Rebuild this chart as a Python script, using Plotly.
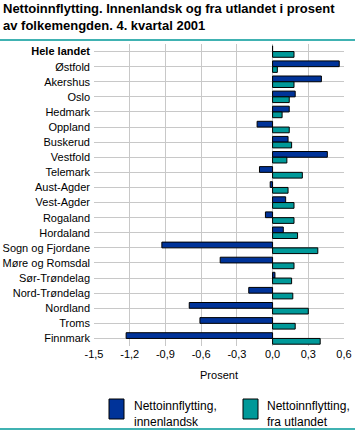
import plotly.graph_objects as go

regions = ["Hele landet", "Østfold", "Akershus", "Oslo", "Hedmark", "Oppland", "Buskerud",
           "Vestfold", "Telemark", "Aust-Agder", "Vest-Agder", "Rogaland", "Hordaland",
           "Sogn og Fjordane", "Møre og Romsdal", "Sør-Trøndelag", "Nord-Trøndelag",
           "Nordland", "Troms", "Finnmark"]
innenlandsk = [0.0, 0.56, 0.41, 0.19, 0.14, -0.13, 0.13, 0.46, -0.11, -0.02, 0.11, -0.06,
               0.09, -0.93, -0.44, 0.02, -0.20, -0.70, -0.61, -1.23]
utlandet = [0.18, 0.04, 0.18, 0.14, 0.08, 0.14, 0.16, 0.12, 0.25, 0.13, 0.18, 0.18, 0.21,
            0.38, 0.18, 0.16, 0.17, 0.30, 0.19, 0.40]
tick_vals = [-1.5, -1.2, -0.9, -0.6, -0.3, 0.0, 0.3, 0.6]
tick_text = ["-1,5", "-1,2", "-0,9", "-0,6", "-0,3", "0,0", "0,3", "0,6"]
series_names = ["Nettoinnflytting,<br>innenlandsk", "Nettoinnflytting,<br>fra utlandet"]
title_text = "<b>Nettoinnflytting. Innenlandsk og fra utlandet i prosent<br>av folkemengden. 4. kvartal 2001</b>"

BLUE = "#003399"
TEAL = "#009999"
FONT = "Liberation Sans"
TFONT = "Liberation Sans"

W, H = 355, 434
L, R, T, B = 94, 11, 44, 88
PW, PH = W - L - R, H - T - B


def px(x):
    return (x - L) / PW


def py(y):
    return 1 - (y - T) / PH


fig = go.Figure()
fig.add_trace(go.Bar(y=regions, x=innenlandsk, orientation="h",
                     marker=dict(color=BLUE, line=dict(color="black", width=1)), showlegend=False))
fig.add_trace(go.Bar(y=regions, x=utlandet, orientation="h",
                     marker=dict(color=TEAL, line=dict(color="black", width=1)), showlegend=False))

ticktext_y = ["<b>Hele landet</b>"] + regions[1:]

fig.update_layout(
    width=W, height=H,
    margin=dict(l=L, r=R, t=T, b=B),
    paper_bgcolor="white", plot_bgcolor="white",
    barmode="group", bargap=0.24, bargroupgap=0,
    font=dict(family=FONT, size=11, color="black"),
    xaxis=dict(range=[-1.5, 0.6], tickvals=tick_vals, ticktext=tick_text, showgrid=True,
               gridcolor="#c8c8c8", gridwidth=1, zeroline=False, showline=False, ticks="",
               automargin=False, title=dict(text="Prosent", standoff=12, font=dict(size=11))),
    yaxis=dict(autorange="reversed", tickvals=regions, ticktext=ticktext_y, showgrid=True,
               gridcolor="#c8c8c8", gridwidth=1, zeroline=False, showline=False, ticks="",
               automargin=False, ticklabelstandoff=3),
    annotations=[
        dict(text=title_text, x=px(1), y=py(-1), xref="paper", yref="paper", xanchor="left", yanchor="top",
             showarrow=False, align="left", font=dict(family=TFONT, size=13, color="black")),
        dict(text=series_names[0], x=px(132), y=py(397), xref="paper", yref="paper",
             xanchor="left", yanchor="top", showarrow=False, align="left", font=dict(size=12)),
        dict(text=series_names[1], x=px(265), y=py(397), xref="paper", yref="paper",
             xanchor="left", yanchor="top", showarrow=False, align="left", font=dict(size=12)),
    ],
    shapes=[
        dict(type="line", xref="paper", yref="paper", x0=px(0), x1=px(W), y0=py(40), y1=py(40),
             line=dict(color=TEAL, width=1.5)),
        dict(type="line", xref="paper", yref="paper", x0=px(0), x1=px(W), y0=py(429), y1=py(429),
             line=dict(color=TEAL, width=1.5)),
        dict(type="rect", xref="paper", yref="paper", x0=px(109), x1=px(124),
             y0=py(419), y1=py(399), fillcolor=BLUE, line=dict(color="black", width=1)),
        dict(type="rect", xref="paper", yref="paper", x0=px(243), x1=px(258),
             y0=py(419), y1=py(399), fillcolor=TEAL, line=dict(color="black", width=1)),
    ],
)

fig.write_html("out.html", config={"displayModeBar": False},
               post_script="document.body.style.margin='0';")
